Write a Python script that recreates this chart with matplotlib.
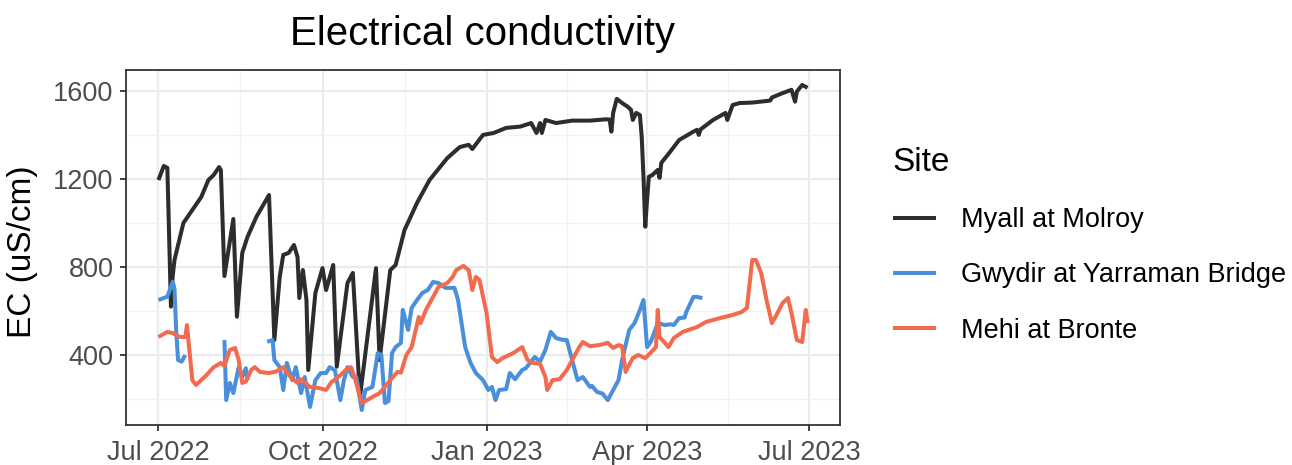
import numpy as np
import pandas as pd
import matplotlib
matplotlib.use("Agg")
import matplotlib.pyplot as plt

plt.rcParams['font.family'] = ['Liberation Sans', 'DejaVu Sans']

START = "2022-07-01"

# Myall at Molroy: days since 2022-07-01, EC (uS/cm)
myall_days = [0, 3, 5, 7, 8, 9, 14, 19, 24, 28, 31, 34, 35, 37, 42, 44, 47, 50, 55, 62,
              65, 68, 70, 73, 76, 78, 79, 81, 83, 84, 88, 92, 94, 98, 100, 106, 109, 113,
              122, 124, 130, 133, 138, 145, 152, 162, 169, 174, 176, 182, 188, 195, 203,
              209, 212, 214, 215, 217, 223, 232, 242, 251, 253, 254, 255, 257, 260, 263,
              265, 266, 268, 270, 271, 272, 273, 274, 275, 277, 280, 281, 282, 287, 292,
              300, 302, 303, 304, 311, 318, 319, 322, 326, 333, 343, 344, 350, 355, 357,
              358, 361, 364]
myall_ec = [1195, 1259, 1250, 620, 760, 832, 1000, 1059, 1118, 1195, 1218, 1254, 1240, 759,
            1018, 574, 864, 938, 1029, 1127, 468, 755, 855, 864, 900, 845, 659, 786, 650,
            332, 682, 795, 695, 809, 347, 727, 773, 210, 795, 377, 786, 809, 968, 1091,
            1195, 1295, 1345, 1355, 1336, 1400, 1409, 1432, 1438, 1454, 1409, 1454, 1409,
            1468, 1454, 1465, 1465, 1471, 1470, 1415, 1500, 1564, 1545, 1529, 1514, 1468,
            1500, 1490, 1392, 1210, 983, 1105, 1210, 1218, 1241, 1205, 1273, 1324, 1377,
            1415, 1423, 1400, 1425, 1468, 1500, 1468, 1536, 1545, 1547, 1556, 1570, 1590,
            1605, 1551, 1597, 1627, 1614]

# Gwydir at Yarraman Bridge (NaN = gap in record)
gwydir_days = [0, 5, 8, 9, 10, 11, 13, 15, 26, 37, 38, 40, 42, 45, 47, 49, 50, 55,
               61, 64, 65, 68, 70, 72, 75, 77, 80, 82, 85, 88, 91, 94, 96, 99, 102, 104,
               106, 109, 111, 114, 116, 120, 123, 125, 127, 129, 131, 133, 136, 137, 140,
               142, 145, 148, 151, 154, 157, 161, 166, 168, 172, 175, 178, 182, 185, 187,
               189, 191, 195, 197, 200, 204, 206, 209, 211, 214, 217, 220, 223, 226, 229,
               232, 235, 238, 242, 243, 246, 249, 252, 255, 258, 260, 264, 267, 270, 272,
               274, 276, 277, 280, 284, 287, 289, 292, 295, 296, 300, 302, 305]
gwydir_ec = [650, 665, 733, 700, 500, 377, 370, 400, np.nan, 468, 195, 273, 227, 345, 300,
             340, 286, np.nan, 460, 468, 377, 345, 241, 364, 286, 345, 227, 300, 164, 286,
             318, 318, 345, 330, 195, 286, 345, 300, 300, 150, 241, 255, 409, 400, 182,
             190, 409, 436, 455, 605, 514, 614, 650, 682, 695, 732, 727, 705, 705, 650,
             436, 364, 318, 286, 241, 255, 195, 241, 245, 318, 290, 332, 340, 370, 391,
             370, 423, 505, 477, 470, 468, 377, 286, 300, 255, 260, 232, 225, 195, 241,
             286, 377, 514, 545, 605, 650, 436, 459, 480, 545, 536, 540, 536, 568, 570,
             595, 664, 664, 659]

# Mehi at Bronte
mehi_days = [0, 5, 8, 12, 15, 16, 17, 19, 21, 24, 27, 31, 35, 37, 40, 43, 45, 47, 49, 52,
             54, 57, 62, 66, 70, 73, 78, 80, 85, 90, 94, 97, 101, 105, 108, 110, 113, 114,
             116, 120, 124, 127, 130, 134, 136, 139, 142, 146, 147, 150, 154, 157, 162,
             165, 167, 171, 174, 176, 178, 180, 184, 187, 190, 193, 199, 204, 207, 210,
             214, 217, 218, 221, 225, 229, 232, 236, 238, 242, 247, 252, 255, 258, 260,
             262, 263, 266, 269, 273, 276, 279, 280, 281, 284, 286, 289, 294, 302, 307,
             315, 322, 327, 330, 333, 335, 338, 341, 344, 346, 350, 353, 355, 358, 361,
             363, 364]
mehi_ec = [482, 505, 500, 482, 482, 536, 450, 286, 264, 286, 309, 345, 364, 350, 423, 432,
           377, 273, 280, 332, 345, 323, 318, 325, 345, 309, 273, 290, 255, 250, 241, 277,
           300, 332, 345, 300, 209, 182, 190, 209, 227, 255, 286, 323, 320, 400, 436, 573,
           545, 605, 664, 709, 727, 755, 786, 805, 786, 695, 755, 741, 591, 391, 368, 386,
           409, 436, 377, 364, 360, 300, 241, 286, 290, 332, 377, 436, 459, 440, 445, 455,
           432, 445, 440, 323, 340, 386, 400, 386, 410, 436, 605, 482, 455, 436, 477, 505,
           527, 550, 568, 582, 595, 614, 832, 832, 773, 650, 545, 573, 636, 659, 591, 468,
           459, 605, 545]

sites = ["Myall at Molroy", "Gwydir at Yarraman Bridge", "Mehi at Bronte"]
colors = ["#2d2d2d", "#4a8fdb", "#f26b4f"]
y_ticks = [400, 800, 1200, 1600]
y_minor = [200, 600, 1000, 1400]
x_ticks = ["2022-07-01", "2022-10-01", "2023-01-01", "2023-04-01", "2023-07-01"]
x_ticklabels = ["Jul 2022", "Oct 2022", "Jan 2023", "Apr 2023", "Jul 2023"]


def to_dates(days):
    return pd.Timestamp(START) + pd.to_timedelta(days, unit="D")


series = [(myall_days, myall_ec), (gwydir_days, gwydir_ec), (mehi_days, mehi_ec)]

W, H = 1292, 465
fig = plt.figure(figsize=(W / 100, H / 100), dpi=100)
ax = fig.add_axes([126 / W, 1 - 425 / H, (840 - 126) / W, (425 - 70) / H])

handles = []
for (d, v), name, c in zip(series, sites, colors):
    h, = ax.plot(to_dates(d), v, color=c, lw=2.9, solid_capstyle="butt",
                 solid_joinstyle="round", label=name, zorder=3)
    handles.append(h)

# limits with ggplot-like 5% expansion on x
all_days = myall_days + gwydir_days + mehi_days
dmin, dmax = min(all_days), max(all_days)
pad = 0.05 * (dmax - dmin)
ax.set_xlim(to_dates([dmin - pad])[0], to_dates([dmax + pad])[0])
ax.set_ylim(82, 1695)

xt = pd.to_datetime(x_ticks)
ax.set_xticks(xt)
ax.set_xticklabels(x_ticklabels)
minor_x = [xt[i] + (xt[i + 1] - xt[i]) / 2 for i in range(len(xt) - 1)]
ax.set_xticks(minor_x, minor=True)
ax.set_yticks(y_ticks)
ax.set_yticks(y_minor, minor=True)

ax.grid(which="major", color="#ebebeb", lw=1.6, zorder=0)
ax.grid(which="minor", color="#f2f2f2", lw=0.9, zorder=0)
ax.set_axisbelow(True)

for s in ax.spines.values():
    s.set_color("#333333")
    s.set_linewidth(1.3)

ax.tick_params(which="major", length=4.5, width=1.3, color="#333333",
               labelsize=19.5, labelcolor="#4d4d4d")
ax.tick_params(axis="x", which="major", pad=6.5)
ax.tick_params(axis="y", which="major", pad=4.5)
ax.tick_params(which="minor", length=0)

fig.text(483 / W, 1 - 34 / H, "Electrical conductivity", ha="center", va="center",
         fontsize=29, color="black")
fig.text(23 / W, 1 - 252 / H, "EC (uS/cm)", ha="center", va="center", rotation=90,
         fontsize=24, color="black")

leg = fig.legend(handles=handles, labels=sites, loc="upper left",
                 bbox_to_anchor=(882 / W, 1 - 136 / H), frameon=False,
                 fontsize=19.5, title="Site", title_fontsize=24,
                 handlelength=1.6, handletextpad=0.9, labelspacing=1.08,
                 borderaxespad=0, alignment="left")
for lh in leg.get_lines():
    lh.set_linewidth(2.9)

fig.savefig("out.png", dpi=100)
